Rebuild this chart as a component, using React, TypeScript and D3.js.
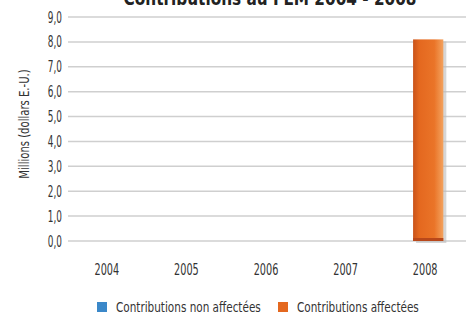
import React from "react";
import * as d3 from "d3";

const years = ["2004", "2005", "2006", "2007", "2008"];
const nonAffectees = [0, 0, 0, 0, 0];
const affectees = [0, 0, 0, 0, 8.1];
const yTicks = [0, 1, 2, 3, 4, 5, 6, 7, 8, 9];
const seriesNames = ["Contributions non affectées", "Contributions affectées"];
const seriesColors = ["#3b88c9", "#e4681f"];
const title = "Contributions au FEM 2004 - 2008";

const W = 466, H = 320;
const font = "'DejaVu Sans Condensed', 'Liberation Sans Narrow', 'Open Sans', sans-serif";

function T({ x, y, sx = 0.78, size = 14, anchor = "start", rotate = 0, weight = "normal", fill = "#333", children }: any) {
  return (
    <text
      transform={`translate(${x},${y}) rotate(${rotate}) scale(${sx},1)`}
      textAnchor={anchor}
      fontFamily={font}
      fontSize={size}
      fontWeight={weight}
      fill={fill}
    >
      {children}
    </text>
  );
}

export default function App() {
  const x = d3.scaleBand<string>().domain(years).range([67, 465]).paddingInner(0.62).paddingOuter(0.31);
  const y = d3.scaleLinear().domain([0, 9]).range([241, 17]);
  const fmt = (v: number) => d3.format(".1f")(v).replace(".", ",");
  return (
    <svg width={W} height={H} style={{ position: "absolute", left: 0, top: 0, background: "#fff" }}>
      <defs>
        <linearGradient id="og" x1="0" x2="1" y1="0" y2="0">
          <stop offset="0" stopColor="#c9531a" />
          <stop offset="0.2" stopColor="#e4681f" />
          <stop offset="0.7" stopColor="#ea7428" />
          <stop offset="1" stopColor="#f3a25e" />
        </linearGradient>
      </defs>
      <T x={270} y={5} anchor="middle" size={20} sx={0.85} weight="bold" fill="#222">{title}</T>
      {yTicks.map((t) => (
        <g key={t}>
          <line x1={68} x2={466} y1={y(t)} y2={y(t)} stroke="#cfcfcf" strokeWidth={1.5} />
          <T x={62} y={y(t) + 5.5} anchor="end" size={15} sx={0.66}>{fmt(t)}</T>
        </g>
      ))}
      <T x={29} y={124} anchor="middle" rotate={-90} size={14} sx={0.8}>Millions (dollars E.-U.)</T>
      {years.map((yr, i) => {
        const v = affectees[i];
        if (v <= 0) return null;
        const bx = (x(yr) as number) + 3;
        const bw = x.bandwidth();
        return (
          <g key={yr}>
            <rect x={bx + 3} y={y(v) + 2} width={bw} height={y(0) - y(v)} fill="#bbb" opacity={0.6} />
            <rect x={bx} y={y(v)} width={bw} height={y(0) - y(v)} fill="url(#og)" />
            <rect x={bx} y={y(0) - 3} width={bw} height={3} fill="#b9481a" />
          </g>
        );
      })}
      {years.map((yr, i) => {
        const v = nonAffectees[i];
        if (v <= 0) return null;
        const bx = x(yr) as number;
        return <rect key={"b" + yr} x={bx} y={y(v)} width={x.bandwidth()} height={y(0) - y(v)} fill={seriesColors[0]} />;
      })}
      {years.map((yr) => (
        <T key={"l" + yr} x={(x(yr) as number) + x.bandwidth() / 2} y={275} anchor="middle" size={15} sx={0.72}>{yr}</T>
      ))}
      {seriesNames.map((n, i) => {
        const lx = i === 0 ? 97 : 278;
        return (
          <g key={n}>
            <rect x={lx} y={302} width={10} height={10} fill={seriesColors[i]} />
            <T x={lx + 19} y={312} size={14} sx={0.83}>{n}</T>
          </g>
        );
      })}
    </svg>
  );
}
